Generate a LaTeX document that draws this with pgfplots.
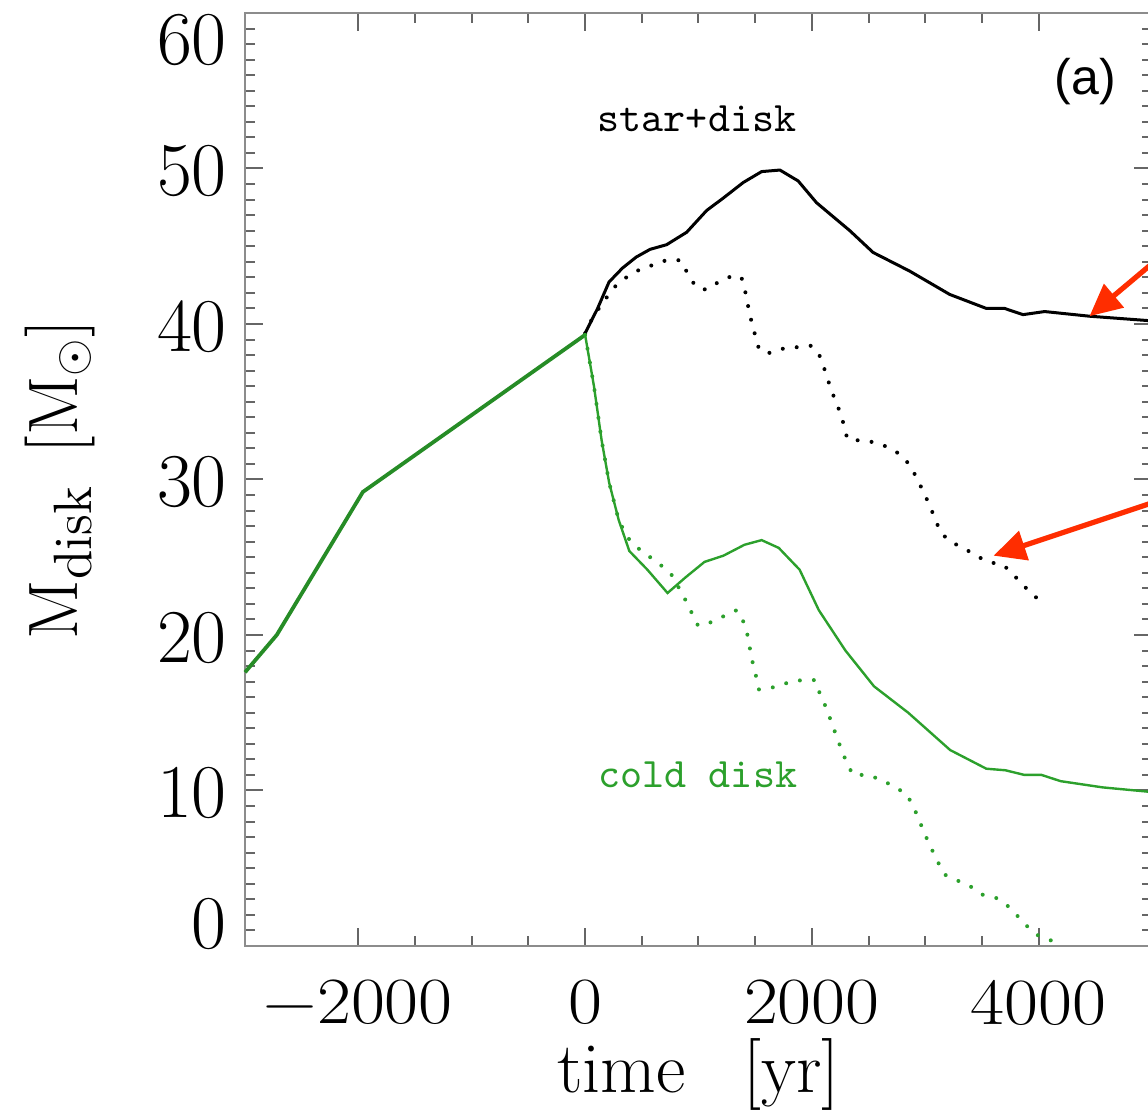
\documentclass[border=0pt]{standalone}
\usepackage{fontspec}
\usepackage{pgfplots}
\pgfplotsset{compat=1.18}
\usetikzlibrary{arrows.meta}
\newfontfamily\helv{Liberation Sans}
\definecolor{cgreen}{RGB}{44,160,44}
\definecolor{cdgreen}{RGB}{38,140,38}
\definecolor{cred}{RGB}{255,45,0}
\newcommand{\xl}[1]{\scalebox{1.12}[1]{#1}}

\begin{document}
\begin{tikzpicture}
\begin{axis}[
 name=ax,
 width=226.75pt, height=233.25pt, scale only axis,
 xmin=-3000, xmax=5000, ymin=0, ymax=60,
 xtick={-2000,0,2000,4000}, minor x tick num=3,
 xticklabels={\xl{−2000},\xl{0},\xl{2000},\xl{4000}},
 ytick={0,10,20,30,40,50,60}, minor y tick num=9,
 yticklabels={\raisebox{6.3pt}[\height][\depth]{0},10,20,30,40,50,\raisebox{-6.1pt}[\height][\depth]{60}},
 xticklabel style={font=\fontsize{16.5}{16.5}\selectfont, yshift=-5pt},
 yticklabel style={font=\fontsize{19}{19}\selectfont, xshift=-1pt, yshift=-0.7pt},
 major tick length=4.5pt, minor tick length=2.5pt,
 tick style={black!60, line width=0.5pt},
 axis line style={black!45, line width=0.7pt},
 xlabel={time\hspace{0.8em}[yr]},
 xlabel style={at={(axis description cs:0.5,-0.138)}, anchor=center, font=\fontsize{18}{18}\selectfont},
 ylabel={$\mathrm{M}_{\mbox{\fontsize{13.5}{13.5}\selectfont disk}}$\hspace{0.45em}[M$_{\odot}$]},
 ylabel style={at={(axis description cs:-0.204,0.5)}, anchor=center, font=\fontsize{17.5}{17.5}\selectfont},
 clip=false,
]
% black solid: star+disk
\addplot[black, line width=0.75pt] coordinates {
(0,39.4) (110,41.0) (211,42.7) (330,43.6) (450,44.3) (573,44.8) (719,45.1)
(896,45.9) (1072,47.3) (1219,48.1) (1395,49.1) (1557,49.8) (1718,49.9)
(1879,49.2) (2041,47.8) (2188,46.9) (2335,46.0) (2540,44.6) (2863,43.4)
(3216,41.9) (3539,41.0) (3700,41.0) (3862,40.6) (4053,40.8) (4449,40.5) (5000,40.2)
};
% black dotted
\addplot[black, line width=1pt, line cap=round, dash pattern=on 0pt off 3.5pt] coordinates {
(0,39.4) (44,40.1) (112,40.9) (179,41.6) (263,42.4) (364,43.0) (481,43.5)
(599,43.8) (716,44.1) (840,44.1) (901,43.3) (975,42.4) (1069,42.2) (1177,42.7)
(1298,43.1) (1379,43.0) (1412,42.1) (1439,41.1) (1466,40.2) (1499,39.3)
(1533,38.4) (1607,38.1) (1735,38.4) (1859,38.5) (1994,38.6) (2061,38.1)
(2111,37.1) (2151,36.2) (2195,35.3) (2239,34.5) (2279,33.6) (2313,32.6)
(2430,32.5) (2548,32.4) (2665,32.1) (2783,31.6) (2867,30.9) (2924,30.1)
(2978,29.3) (3035,28.4) (3085,27.5) (3135,26.6) (3220,26.0) (3337,25.6)
(3448,25.1) (3556,24.7) (3690,24.5) (3774,23.9) (3865,23.2) (3959,22.5) (4076,22.0)
};
% green before t=0
\addplot[cdgreen, line width=0.95pt] coordinates {
(-3000,17.6) (-2720,20.0) (-1960,29.2) (0,39.3)
};
% green solid: cold disk
\addplot[cgreen, line width=0.6pt] coordinates {
(0,39.3) (78,36.0) (146,32.5) (212,29.8) (296,27.4) (390,25.4) (549,24.2)
(727,22.7) (885,23.7) (1053,24.7) (1220,25.1) (1405,25.8) (1557,26.1)
(1708,25.6) (1892,24.2) (2061,21.6) (2296,19.0) (2548,16.7) (2850,15.0)
(3220,12.6) (3539,11.4) (3707,11.3) (3875,11.0) (4026,11.0) (4194,10.6)
(4564,10.2) (5000,9.9)
};
% green dotted
\addplot[cgreen, line width=1pt, line cap=round, dash pattern=on 0pt off 3.5pt] coordinates {
(0,39.3) (78,36.0) (146,32.5) (212,29.8) (296,27.4) (370,26.3) (464,25.6)
(666,24.5) (760,23.9) (868,22.5) (942,21.4) (996,20.6) (1103,20.8) (1220,21.2)
(1338,21.6) (1389,21.0) (1432,20.0) (1472,18.4) (1506,17.4) (1533,16.5)
(1641,16.6) (1775,16.9) (1909,17.1) (2027,17.1) (2077,16.1) (2128,15.3)
(2172,14.4) (2212,13.6) (2262,12.6) (2313,11.7) (2363,11.0) (2481,11.0)
(2615,10.7) (2733,10.2) (2833,9.8) (2900,8.9) (2951,8.0) (3002,7.1)
(3052,6.3) (3112,5.4) (3169,4.6) (3287,4.2) (3405,3.8) (3506,3.3)
(3623,3.1) (3724,2.6) (3818,1.9) (3908,1.2) (4009,0.6) (4134,0.3) (4180,0)
};
\node[font=\ttfamily\fontsize{10.5}{10.5}\selectfont] at (axis cs:987,53.2) {star+disk};
\node[font=\ttfamily\fontsize{10.5}{10.5}\selectfont, text=cgreen] at (axis cs:995,11.0) {cold disk};
\node[font=\helv\fontsize{12.5}{12.5}\selectfont] at (axis cs:4414,55.6) {(a)};
\draw[cred, line width=1.3pt, -{Triangle[length=8pt,width=7.5pt]}] (axis cs:5330,45.9) -- (axis cs:4449,40.5);
\draw[cred, line width=1.3pt, -{Triangle[length=8pt,width=7.5pt]}] (axis cs:5330,29.3) -- (axis cs:3603,25.1);
\end{axis}
\pgfresetboundingbox
\path[use as bounding box] ([xshift=-61.25pt,yshift=-41.25pt]ax.south west) rectangle ++(287pt,277.75pt);
\end{tikzpicture}
\end{document}
